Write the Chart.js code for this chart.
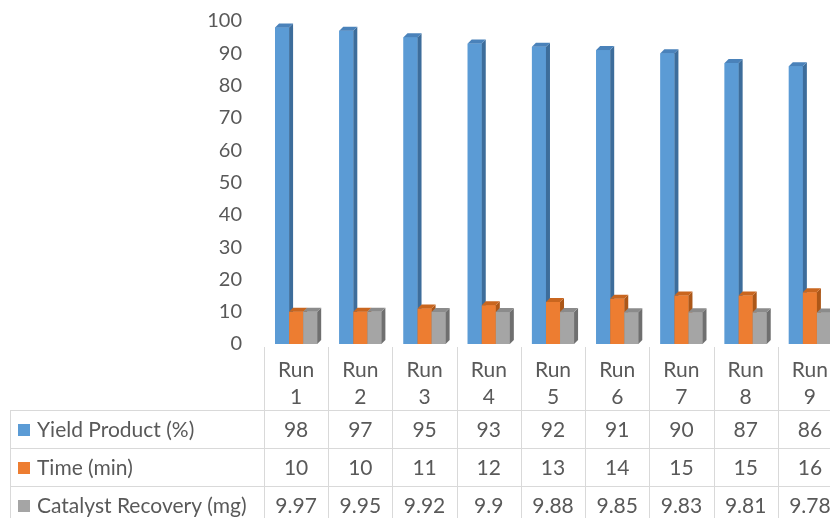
<!DOCTYPE html>
<html>
<head>
<meta charset="UTF-8">
<title>Catalyst reuse runs</title>
<script src="https://cdn.jsdelivr.net/npm/chart.js@4.4.0/dist/chart.umd.min.js"></script>
<style>
  html, body { margin: 0; padding: 0; background: #fff; overflow: hidden; }
  #wrap { position: relative; width: 830px; height: 518px; overflow: hidden; }
  #wrap canvas { position: absolute; left: 0; top: 0; }
</style>
</head>
<body>
<div id="wrap"><canvas id="runChart" width="842" height="518"></canvas></div>
<script>
const runs = ["Run 1", "Run 2", "Run 3", "Run 4", "Run 5", "Run 6", "Run 7", "Run 8", "Run 9"];
const yieldProduct = [98, 97, 95, 93, 92, 91, 90, 87, 86];
const reactionTime = [10, 10, 11, 12, 13, 14, 15, 15, 16];
const catalystRecovery = [9.97, 9.95, 9.92, 9.9, 9.88, 9.85, 9.83, 9.81, 9.78];
const seriesNames = ["Yield Product (%)", "Time (min)", "Catalyst Recovery (mg)"];
const yMin = 0;
const yMax = 100;
const yStep = 10;

const textColor = "#595959";
const lineColor = "#d9d9d9";
const fontFamily = "Lato, 'Open Sans', sans-serif";

// front / top / side shades for the fake 3D columns
const shades = [
  { front: "#5b9bd5", top: "#4a82ba", side: "#3d6d9b" },
  { front: "#ed7d31", top: "#c9661f", side: "#ac5718" },
  { front: "#a5a5a5", top: "#8b8b8b", side: "#6f6f6f" },
];
const depth = 4;

const columns3d = {
  id: "columns3d",
  afterDatasetsDraw(chart) {
    const ctx = chart.ctx;
    ctx.save();
    for (let i = 0; i < runs.length; i++) {
      chart.data.datasets.forEach((ds, d) => {
        const bar = chart.getDatasetMeta(d).data[i];
        const { x, y, base, width } = bar.getProps(["x", "y", "base", "width"], true);
        const l = x - width / 2;
        const r = x + width / 2;
        const c = shades[d];
        ctx.fillStyle = c.front;
        ctx.fillRect(l, y, width, base - y);
        ctx.fillStyle = c.side;
        ctx.beginPath();
        ctx.moveTo(r, y);
        ctx.lineTo(r + depth, y - depth);
        ctx.lineTo(r + depth, base - depth);
        ctx.lineTo(r, base);
        ctx.closePath();
        ctx.fill();
        ctx.fillStyle = c.top;
        ctx.beginPath();
        ctx.moveTo(l, y);
        ctx.lineTo(r, y);
        ctx.lineTo(r + depth, y - depth);
        ctx.lineTo(l + depth, y - depth);
        ctx.closePath();
        ctx.fill();
      });
    }
    ctx.restore();
  },
};

// data table under the plot, one column per run
const dataTable = {
  id: "dataTable",
  afterDraw(chart) {
    const ctx = chart.ctx;
    const xs = chart.scales.x;
    const area = chart.chartArea;
    const colW = xs.getPixelForValue(1) - xs.getPixelForValue(0);
    const headTop = area.bottom + 3;
    const rowTops = [410, 448, 486];
    const rowH = 38;
    const tableLeft = 10;
    const rows = [yieldProduct, reactionTime, catalystRecovery];

    ctx.save();
    ctx.strokeStyle = lineColor;
    ctx.lineWidth = 1;
    ctx.beginPath();
    // column separators
    for (let i = 0; i <= runs.length; i++) {
      const bx = Math.round(xs.getPixelForValue(i) - colW / 2) + 0.5;
      ctx.moveTo(bx, headTop);
      ctx.lineTo(bx, chart.height);
    }
    ctx.moveTo(tableLeft + 0.5, rowTops[0]);
    ctx.lineTo(tableLeft + 0.5, chart.height);
    rowTops.forEach((ty) => {
      ctx.moveTo(tableLeft, ty + 0.5);
      ctx.lineTo(chart.width, ty + 0.5);
    });
    ctx.stroke();

    ctx.fillStyle = textColor;
    ctx.font = "21px " + fontFamily;
    ctx.textAlign = "center";
    ctx.textBaseline = "middle";
    runs.forEach((run, i) => {
      const cx = xs.getPixelForValue(i);
      const parts = run.split(" ");
      ctx.fillText(parts[0], cx, 370);
      ctx.fillText(parts[1], cx, 397);
      rows.forEach((vals, r) => {
        ctx.fillText(String(vals[i]), cx, rowTops[r] + rowH / 2 + 1);
      });
    });

    ctx.textAlign = "left";
    seriesNames.forEach((name, r) => {
      const cy = rowTops[r] + rowH / 2 + 1;
      ctx.fillStyle = shades[r].front;
      ctx.fillRect(18, cy - 6, 12, 12);
      ctx.fillStyle = textColor;
      ctx.fillText(name, 37, cy);
    });
    ctx.restore();
  },
};

new Chart(document.getElementById("runChart"), {
  type: "bar",
  data: {
    labels: runs,
    datasets: [
      { label: seriesNames[0], data: yieldProduct, backgroundColor: shades[0].front },
      { label: seriesNames[1], data: reactionTime, backgroundColor: shades[1].front },
      { label: seriesNames[2], data: catalystRecovery, backgroundColor: shades[2].front },
    ],
  },
  options: {
    responsive: false,
    animation: false,
    barPercentage: 1,
    categoryPercentage: 0.656,
    layout: { padding: { top: 21, bottom: 174, left: 0, right: 0 } },
    plugins: {
      legend: { display: false },
      tooltip: { enabled: false },
    },
    scales: {
      x: { display: false },
      y: {
        min: yMin,
        max: yMax,
        grid: { display: false, drawTicks: false },
        border: { display: false },
        ticks: {
          stepSize: yStep,
          padding: 22,
          color: textColor,
          font: { family: fontFamily, size: 20 },
        },
        afterFit(scale) {
          scale.width = 264;
          // tick padding would otherwise push the plot top down
          scale.paddingTop = 0;
          scale.paddingBottom = 0;
        },
      },
    },
  },
  plugins: [columns3d, dataTable],
});
</script>
</body>
</html>
